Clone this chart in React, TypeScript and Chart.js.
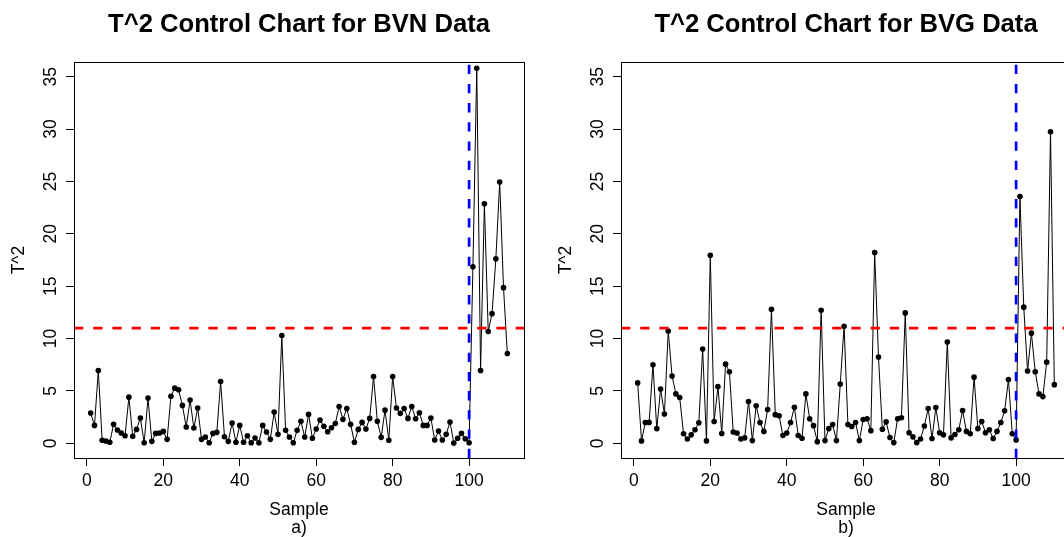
import React, { useEffect, useRef } from 'react';
import { Chart, registerables } from 'chart.js';

Chart.register(...registerables);

// ---- data ----
const bvnT2 = [
  2.89, 1.71, 6.95, 0.29, 0.22, 0.10, 1.81, 1.27, 0.98, 0.73,
  4.41, 0.67, 1.33, 2.41, 0.05, 4.32, 0.19, 0.95, 0.98, 1.14,
  0.38, 4.50, 5.27, 5.11, 3.62, 1.56, 4.13, 1.46, 3.37, 0.38,
  0.60, 0.05, 0.95, 1.05, 5.90, 0.63, 0.19, 1.94, 0.10, 1.71,
  0.10, 0.73, 0.05, 0.51, 0.05, 1.71, 1.08, 0.38, 2.98, 0.86,
  10.29, 1.24, 0.60, 0.05, 1.24, 2.10, 0.60, 2.76, 0.48, 1.37,
  2.22, 1.62, 1.11, 1.49, 1.90, 3.52, 2.29, 3.33, 1.81, 0.10,
  1.33, 2.00, 1.37, 2.38, 6.38, 2.10, 0.57, 3.17, 0.29, 6.38,
  3.37, 2.86, 3.33, 2.38, 3.52, 2.35, 2.92, 1.71, 1.71, 2.41,
  0.32, 1.17, 0.32, 0.86, 2.03, 0.02, 0.48, 0.95, 0.44, 0.05,
  16.86, 35.80, 6.95, 22.86, 10.67, 12.38, 17.62, 24.95, 14.86, 8.57,
];

const bvgT2 = [
  5.77, 0.23, 1.99, 2.00, 7.49, 1.40, 5.18, 2.80, 10.72, 6.42,
  4.72, 4.37, 0.91, 0.42, 0.81, 1.30, 1.96, 9.00, 0.23, 17.95,
  2.09, 5.41, 0.94, 7.56, 6.84, 1.08, 0.98, 0.42, 0.52, 4.00,
  0.26, 3.58, 1.99, 1.14, 3.23, 12.80, 2.74, 2.64, 0.75, 0.98,
  1.99, 3.45, 0.75, 0.49, 4.72, 2.35, 1.69, 0.16, 12.70, 0.26,
  1.40, 1.79, 0.26, 5.67, 11.18, 1.79, 1.60, 1.99, 0.26, 2.28,
  2.35, 1.21, 18.21, 8.24, 1.34, 2.05, 0.55, 0.07, 2.35, 2.44,
  12.45, 1.01, 0.62, 0.07, 0.42, 1.66, 3.32, 0.46, 3.42, 1.01,
  0.81, 9.68, 0.52, 0.85, 1.30, 3.13, 1.14, 0.91, 6.32, 1.40,
  2.09, 1.01, 1.30, 0.46, 1.14, 1.99, 3.10, 6.09, 0.91, 0.33,
  23.56, 13.00, 6.90, 10.52, 6.84, 4.72, 4.46, 7.75, 29.75, 5.60,
];

const xTickValues = [0, 20, 40, 60, 80, 100];
const yTickValues = [0, 5, 10, 15, 20, 25, 30, 35];
const xLimits = [-3.36, 114.36];
const yLimits = [-1.4, 36.4];
const controlLimit = 11;
const changePoint = 100;
const panelTitles = ['T^2 Control Chart for BVN Data', 'T^2 Control Chart for BVG Data'];
const panelTags = ['a)', 'b)'];
const xAxisTitle = 'Sample';
const yAxisTitle = 'T^2';

const FONT = "'Liberation Sans', Arial, Helvetica, sans-serif";
const TICK_SIZE = 17.5;

const CANVAS_W = 600;
const CANVAS_H = 537;

const rStylePlugin = {
  id: 'rStyle',
  afterDraw(chart: any) {
    const { ctx, chartArea } = chart;
    const ys = chart.scales.y;
    ctx.save();
    // plot box
    ctx.strokeStyle = '#000';
    ctx.lineWidth = 1;
    const l = Math.round(chartArea.left) + 0.5;
    const t = Math.round(chartArea.top) + 0.5;
    const r = Math.round(chartArea.right) + 0.5;
    const b = Math.round(chartArea.bottom) + 0.5;
    ctx.strokeRect(l, t, r - l, b - t);
    // rotated y tick labels (R style, las = 0)
    ctx.fillStyle = '#000';
    ctx.font = `${TICK_SIZE}px ${FONT}`;
    ctx.textAlign = 'center';
    ctx.textBaseline = 'alphabetic';
    for (const tk of ys.ticks) {
      const py = ys.getPixelForValue(tk.value);
      ctx.save();
      ctx.translate(chartArea.left - 17.8, py);
      ctx.rotate(-Math.PI / 2);
      ctx.fillText(String(tk.value), 0, 0);
      ctx.restore();
    }
    ctx.restore();
  },
};

function Panel({ values, title, tag, left }: { values: number[]; title: string; tag: string; left: number }) {
  const ref = useRef<HTMLCanvasElement | null>(null);
  useEffect(() => {
    if (!ref.current) return;
    const series = values.map((v, i) => ({ x: i + 1, y: v }));
    const chart = new Chart(ref.current, {
      type: 'scatter',
      data: {
        datasets: [
          {
            data: [
              { x: xLimits[0], y: controlLimit },
              { x: xLimits[1], y: controlLimit },
            ],
            showLine: true,
            borderColor: '#FF0000',
            borderWidth: 2.7,
            borderDash: [9.3, 9.9],
            pointRadius: 0,
            clip: 0,
            order: 0,
          },
          {
            data: [
              { x: changePoint, y: yLimits[0] },
              { x: changePoint, y: yLimits[1] },
            ],
            showLine: true,
            borderColor: '#0000FF',
            borderWidth: 2.7,
            borderDash: [9.3, 9.9],
            pointRadius: 0,
            clip: 0,
            order: 1,
          },
          {
            data: series,
            showLine: true,
            borderColor: '#000',
            borderWidth: 1,
            pointRadius: 2.8,
            pointBackgroundColor: '#000',
            pointBorderWidth: 0,
            tension: 0,
            order: 2,
          },
        ],
      } as any,
      options: {
        responsive: false,
        devicePixelRatio: 1,
        animation: false,
        events: [],
        layout: { padding: { left: 0, right: CANVAS_W - 524, top: 0, bottom: 0 } },
        plugins: {
          legend: { display: false },
          tooltip: { enabled: false },
          title: {
            display: true,
            text: title,
            fullSize: false,
            color: '#000',
            font: { family: FONT, size: 25.6, weight: 'bold', lineHeight: 1.2 },
            padding: { top: 9.1, bottom: 22.2 },
          },
        },
        scales: {
          x: {
            type: 'linear',
            min: xLimits[0],
            max: xLimits[1],
            bounds: 'data',
            afterBuildTicks: (s: any) => {
              s.ticks = xTickValues.map((v) => ({ value: v }));
            },
            afterFit: (s: any) => {
              s.height = CANVAS_H - 458;
            },
            grid: { display: true, drawOnChartArea: false, drawTicks: true, tickLength: 8, color: '#000', lineWidth: 1 },
            border: { display: false },
            ticks: {
              color: '#000',
              font: { family: FONT, size: TICK_SIZE },
              padding: 5,
              autoSkip: false,
              maxRotation: 0,
              minRotation: 0,
            },
            title: {
              display: true,
              text: [xAxisTitle, tag],
              color: '#000',
              font: { family: FONT, size: TICK_SIZE, lineHeight: 1.03 },
              padding: { top: 0, bottom: 0 },
            },
          },
          y: {
            type: 'linear',
            min: yLimits[0],
            max: yLimits[1],
            bounds: 'data',
            afterBuildTicks: (s: any) => {
              s.ticks = yTickValues.map((v) => ({ value: v }));
            },
            afterFit: (s: any) => {
              s.width = 74;
            },
            grid: { display: true, drawOnChartArea: false, drawTicks: true, tickLength: 8, color: '#000', lineWidth: 1 },
            border: { display: false },
            ticks: { display: false, font: { family: FONT, size: TICK_SIZE } },
            title: {
              display: true,
              text: yAxisTitle,
              color: '#000',
              font: { family: FONT, size: TICK_SIZE, lineHeight: 1.2 },
              padding: { top: 8.5, bottom: 0 },
            },
          },
        },
      } as any,
      plugins: [rStylePlugin],
    });
    return () => chart.destroy();
  }, [values, title, tag]);
  return (
    <div style={{ position: 'absolute', left, top: 0, width: CANVAS_W, height: CANVAS_H }}>
      <canvas ref={ref} width={CANVAS_W} height={CANVAS_H} style={{ display: 'block' }} />
    </div>
  );
}

export default function App() {
  return (
    <div
      style={{
        position: 'fixed',
        left: 0,
        top: 0,
        width: 1064,
        height: 537,
        overflow: 'hidden',
        background: '#fff',
      }}
    >
      <Panel values={bvnT2} title={panelTitles[0]} tag={panelTags[0]} left={0} />
      <Panel values={bvgT2} title={panelTitles[1]} tag={panelTags[1]} left={547} />
    </div>
  );
}
